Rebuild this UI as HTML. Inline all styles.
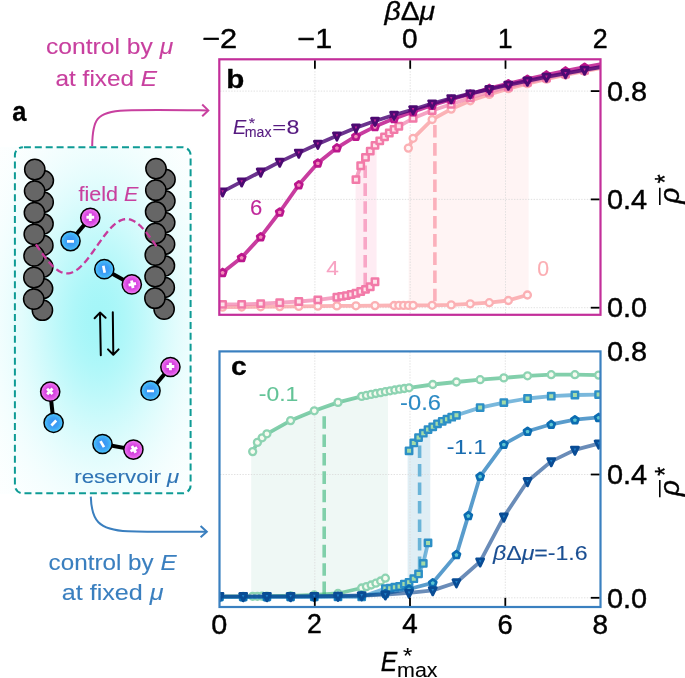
<!DOCTYPE html>
<html><head><meta charset="utf-8"><style>html,body{margin:0;padding:0;background:#fff;overflow:hidden;}svg{display:block;}</style></head>
<body><svg width="685" height="678" viewBox="0 0 685 678" font-family='"Liberation Sans", sans-serif'>
<defs>
<radialGradient id="glow" cx="0.5" cy="0.5" r="0.5"><stop offset="0.000" stop-color="#a4f6f8" stop-opacity="1.0000"/><stop offset="0.042" stop-color="#a4f6f8" stop-opacity="0.9922"/><stop offset="0.083" stop-color="#a4f6f8" stop-opacity="0.9692"/><stop offset="0.125" stop-color="#a4f6f8" stop-opacity="0.9321"/><stop offset="0.167" stop-color="#a4f6f8" stop-opacity="0.8825"/><stop offset="0.208" stop-color="#a4f6f8" stop-opacity="0.8226"/><stop offset="0.250" stop-color="#a4f6f8" stop-opacity="0.7548"/><stop offset="0.292" stop-color="#a4f6f8" stop-opacity="0.6819"/><stop offset="0.333" stop-color="#a4f6f8" stop-opacity="0.6065"/><stop offset="0.375" stop-color="#a4f6f8" stop-opacity="0.5311"/><stop offset="0.417" stop-color="#a4f6f8" stop-opacity="0.4578"/><stop offset="0.458" stop-color="#a4f6f8" stop-opacity="0.3886"/><stop offset="0.500" stop-color="#a4f6f8" stop-opacity="0.3247"/><stop offset="0.542" stop-color="#a4f6f8" stop-opacity="0.2671"/><stop offset="0.583" stop-color="#a4f6f8" stop-opacity="0.2163"/><stop offset="0.625" stop-color="#a4f6f8" stop-opacity="0.1724"/><stop offset="0.667" stop-color="#a4f6f8" stop-opacity="0.1353"/><stop offset="0.708" stop-color="#a4f6f8" stop-opacity="0.1046"/><stop offset="0.750" stop-color="#a4f6f8" stop-opacity="0.0796"/><stop offset="0.792" stop-color="#a4f6f8" stop-opacity="0.0596"/><stop offset="0.833" stop-color="#a4f6f8" stop-opacity="0.0439"/><stop offset="0.875" stop-color="#a4f6f8" stop-opacity="0.0319"/><stop offset="0.917" stop-color="#a4f6f8" stop-opacity="0.0228"/><stop offset="0.958" stop-color="#a4f6f8" stop-opacity="0.0160"/><stop offset="1.000" stop-color="#a4f6f8" stop-opacity="0.0111"/></radialGradient>
<radialGradient id="gp" cx="0.5" cy="0.5" r="0.5"><stop offset="0" stop-color="#c62ed2"/><stop offset="0.55" stop-color="#d94ae2"/><stop offset="1" stop-color="#f27af4"/></radialGradient>
<radialGradient id="gm" cx="0.5" cy="0.5" r="0.5"><stop offset="0" stop-color="#388ef3"/><stop offset="0.55" stop-color="#3da2f5"/><stop offset="1" stop-color="#4ac8fa"/></radialGradient>
</defs>
<clipPath id="glowclip"><rect x="0" y="147" width="191" height="347"/></clipPath><ellipse cx="99" cy="320.5" rx="154.2" ry="273.6" fill="url(#glow)" clip-path="url(#glowclip)"/>
<rect x="14.9" y="147.2" width="175.7" height="346.1" rx="8" ry="8" fill="none" stroke="#0e9b95" stroke-width="2" stroke-dasharray="7 3.9" stroke-dashoffset="-1"/>
<circle cx="43.30" cy="180.60" r="10.15" fill="#666666" stroke="#000" stroke-width="1.5"/>
<circle cx="43.15" cy="202.20" r="10.15" fill="#666666" stroke="#000" stroke-width="1.5"/>
<circle cx="43.00" cy="223.80" r="10.15" fill="#666666" stroke="#000" stroke-width="1.5"/>
<circle cx="42.85" cy="245.40" r="10.15" fill="#666666" stroke="#000" stroke-width="1.5"/>
<circle cx="42.70" cy="267.00" r="10.15" fill="#666666" stroke="#000" stroke-width="1.5"/>
<circle cx="42.55" cy="288.60" r="10.15" fill="#666666" stroke="#000" stroke-width="1.5"/>
<circle cx="42.40" cy="310.20" r="10.15" fill="#666666" stroke="#000" stroke-width="1.5"/>
<circle cx="34.80" cy="169.50" r="10.15" fill="#666666" stroke="#000" stroke-width="1.5"/>
<circle cx="34.62" cy="191.10" r="10.15" fill="#666666" stroke="#000" stroke-width="1.5"/>
<circle cx="34.44" cy="212.70" r="10.15" fill="#666666" stroke="#000" stroke-width="1.5"/>
<circle cx="34.26" cy="234.30" r="10.15" fill="#666666" stroke="#000" stroke-width="1.5"/>
<circle cx="34.08" cy="255.90" r="10.15" fill="#666666" stroke="#000" stroke-width="1.5"/>
<circle cx="33.90" cy="277.50" r="10.15" fill="#666666" stroke="#000" stroke-width="1.5"/>
<circle cx="33.72" cy="299.10" r="10.15" fill="#666666" stroke="#000" stroke-width="1.5"/>
<circle cx="165.00" cy="179.40" r="10.15" fill="#666666" stroke="#000" stroke-width="1.5"/>
<circle cx="164.85" cy="201.00" r="10.15" fill="#666666" stroke="#000" stroke-width="1.5"/>
<circle cx="164.70" cy="222.60" r="10.15" fill="#666666" stroke="#000" stroke-width="1.5"/>
<circle cx="164.55" cy="244.20" r="10.15" fill="#666666" stroke="#000" stroke-width="1.5"/>
<circle cx="164.40" cy="265.80" r="10.15" fill="#666666" stroke="#000" stroke-width="1.5"/>
<circle cx="164.25" cy="287.40" r="10.15" fill="#666666" stroke="#000" stroke-width="1.5"/>
<circle cx="164.10" cy="309.00" r="10.15" fill="#666666" stroke="#000" stroke-width="1.5"/>
<circle cx="156.00" cy="168.60" r="10.15" fill="#666666" stroke="#000" stroke-width="1.5"/>
<circle cx="155.82" cy="190.20" r="10.15" fill="#666666" stroke="#000" stroke-width="1.5"/>
<circle cx="155.64" cy="211.80" r="10.15" fill="#666666" stroke="#000" stroke-width="1.5"/>
<circle cx="155.46" cy="233.40" r="10.15" fill="#666666" stroke="#000" stroke-width="1.5"/>
<circle cx="155.28" cy="255.00" r="10.15" fill="#666666" stroke="#000" stroke-width="1.5"/>
<circle cx="155.10" cy="276.60" r="10.15" fill="#666666" stroke="#000" stroke-width="1.5"/>
<circle cx="154.92" cy="298.20" r="10.15" fill="#666666" stroke="#000" stroke-width="1.5"/>
<polyline points="35.90,244.39 36.90,245.82 37.90,247.24 38.89,248.67 39.89,250.09 40.89,251.49 41.89,252.89 42.88,254.26 43.88,255.61 44.88,256.94 45.88,258.24 46.87,259.50 47.87,260.73 48.87,261.91 49.87,263.06 50.86,264.16 51.86,265.20 52.86,266.20 53.86,267.14 54.85,268.02 55.85,268.84 56.85,269.60 57.85,270.30 58.84,270.93 59.84,271.49 60.84,271.98 61.84,272.40 62.83,272.75 63.83,273.02 64.83,273.22 65.83,273.35 66.82,273.40 67.82,273.37 68.82,273.28 69.82,273.10 70.81,272.85 71.81,272.53 72.81,272.14 73.81,271.67 74.80,271.14 75.80,270.53 76.80,269.86 77.80,269.12 78.79,268.32 79.79,267.46 80.79,266.54 81.79,265.56 82.78,264.53 83.78,263.45 84.78,262.33 85.78,261.15 86.77,259.94 87.77,258.69 88.77,257.40 89.77,256.09 90.76,254.74 91.76,253.38 92.76,251.99 93.76,250.59 94.75,249.17 95.75,247.75 96.75,246.32 97.75,244.90 98.74,243.47 99.74,242.06 100.74,240.65 101.74,239.26 102.73,237.90 103.73,236.55 104.73,235.23 105.73,233.94 106.72,232.69 107.72,231.47 108.72,230.29 109.72,229.16 110.71,228.08 111.71,227.04 112.71,226.06 113.71,225.13 114.70,224.26 115.70,223.46 116.70,222.71 117.70,222.04 118.69,221.42 119.69,220.88 120.69,220.41 121.69,220.01 122.68,219.68 123.68,219.42 124.68,219.24 125.68,219.13 126.67,219.10 127.67,219.14 128.67,219.26 129.67,219.45 130.66,219.72 131.66,220.06 132.66,220.47 133.66,220.96 134.65,221.51 135.65,222.13 136.65,222.82 137.65,223.57 138.64,224.39 139.64,225.27 140.64,226.20 141.64,227.19 142.63,228.23 143.63,229.33 144.63,230.47 145.63,231.65 146.62,232.87 147.62,234.13 148.62,235.43 149.62,236.75 150.61,238.10 151.61,239.47 152.61,240.86 153.61,242.27 154.60,243.68 155.60,245.11 156.60,246.54" fill="none" stroke="#c63a9c" stroke-width="2.3" stroke-dasharray="7 3.8"/>
<line x1="70.5" y1="241.1" x2="90.3" y2="217.8" stroke="#000" stroke-width="4"/><circle cx="70.5" cy="241.1" r="9.6" fill="url(#gm)" stroke="#000" stroke-width="1.5"/><circle cx="90.3" cy="217.8" r="9.6" fill="url(#gp)" stroke="#000" stroke-width="1.5"/><g transform="translate(70.5 241.1) rotate(-0.0)"><path d="M-3.5,0.3H3.5" stroke="#fff" stroke-width="2.7"/></g><g transform="translate(90.3 217.8) rotate(-0.0)"><path d="M-3.9,-0.5H3.9M0,-4.3V3.3" stroke="#fff" stroke-width="2.9"/></g>
<line x1="104.3" y1="269.2" x2="131.8" y2="284.4" stroke="#000" stroke-width="4"/><circle cx="104.3" cy="269.2" r="9.6" fill="url(#gm)" stroke="#000" stroke-width="1.5"/><circle cx="131.8" cy="284.4" r="9.6" fill="url(#gp)" stroke="#000" stroke-width="1.5"/><g transform="translate(104.3 269.2) rotate(78.5)"><path d="M-3.5,0.3H3.5" stroke="#fff" stroke-width="2.7"/></g><g transform="translate(131.8 284.4) rotate(78.5)"><path d="M-3.9,-0.5H3.9M0,-4.3V3.3" stroke="#fff" stroke-width="2.9"/></g>
<line x1="53.6" y1="422.8" x2="50.2" y2="391.7" stroke="#000" stroke-width="4"/><circle cx="53.6" cy="422.8" r="9.6" fill="url(#gm)" stroke="#000" stroke-width="1.5"/><circle cx="50.2" cy="391.7" r="9.6" fill="url(#gp)" stroke="#000" stroke-width="1.5"/><g transform="translate(53.6 422.8) rotate(-46.6)"><path d="M-3.5,0.3H3.5" stroke="#fff" stroke-width="2.7"/></g><g transform="translate(50.2 391.7) rotate(-46.6)"><path d="M-3.9,-0.5H3.9M0,-4.3V3.3" stroke="#fff" stroke-width="2.9"/></g>
<line x1="150.5" y1="390.7" x2="170.4" y2="367.0" stroke="#000" stroke-width="4"/><circle cx="150.5" cy="390.7" r="9.6" fill="url(#gm)" stroke="#000" stroke-width="1.5"/><circle cx="170.4" cy="367.0" r="9.6" fill="url(#gp)" stroke="#000" stroke-width="1.5"/><g transform="translate(150.5 390.7) rotate(-0.4)"><path d="M-3.5,0.3H3.5" stroke="#fff" stroke-width="2.7"/></g><g transform="translate(170.4 367.0) rotate(-0.4)"><path d="M-3.9,-0.5H3.9M0,-4.3V3.3" stroke="#fff" stroke-width="2.9"/></g>
<line x1="102.5" y1="444.0" x2="133.4" y2="449.6" stroke="#000" stroke-width="4"/><circle cx="102.5" cy="444.0" r="9.6" fill="url(#gm)" stroke="#000" stroke-width="1.5"/><circle cx="133.4" cy="449.6" r="9.6" fill="url(#gp)" stroke="#000" stroke-width="1.5"/><g transform="translate(102.5 444.0) rotate(59.9)"><path d="M-3.5,0.3H3.5" stroke="#fff" stroke-width="2.7"/></g><g transform="translate(133.4 449.6) rotate(59.9)"><path d="M-3.9,-0.5H3.9M0,-4.3V3.3" stroke="#fff" stroke-width="2.9"/></g>
<path d="M100.8,355.2 L100.0,312.8 M94.6,318.2 L100.0,312.6 L105.6,317.8" fill="none" stroke="#000" stroke-width="2" stroke-linecap="round" stroke-linejoin="round"/>
<path d="M112.8,312.2 L113.3,354.5 M108.0,349.4 L113.3,354.7 L118.6,349.4" fill="none" stroke="#000" stroke-width="2" stroke-linecap="round" stroke-linejoin="round"/>
<path d="M92.2,146 C92.4,120 96,111.5 125,110.4 C150,109.4 180,110 207.8,110.4" fill="none" stroke="#c8409f" stroke-width="2"/>
<path d="M202.2,104.5 L208.3,110.4 L202.2,116.3" fill="none" stroke="#c8409f" stroke-width="2" stroke-linejoin="miter"/>
<path d="M90.8,496.6 C91.5,520 98,530 128,531.3 C155,532.2 180,531.8 206.5,531.7" fill="none" stroke="#3a7fbf" stroke-width="2"/>
<path d="M200.6,526 L206.8,531.7 L200.6,537.2" fill="none" stroke="#3a7fbf" stroke-width="2" stroke-linejoin="miter"/>
<clipPath id="cb"><rect x="219.3" y="59.3" width="381.2" height="255.5"/></clipPath>
<g clip-path="url(#cb)">
<polygon points="355.60,179.60 360.71,165.70 365.48,157.40 370.24,151.10 375.00,145.40 376.60,143.60 376.60,281.00 375.00,281.80 370.24,286.80 365.48,289.40 360.71,291.50 355.60,293.30" fill="#feecf3" stroke="none"/>
<polygon points="408.60,148.10 413.10,138.30 432.15,119.50 451.20,109.10 470.25,100.80 489.30,94.40 508.35,88.70 527.40,83.70 528.60,83.40 528.60,294.50 527.40,295.00 508.35,300.50 489.30,302.70 470.25,303.80 451.20,304.90 432.15,305.30 408.60,305.40" fill="#fff4f4" stroke="none"/>
<line x1="314.9" y1="60" x2="314.9" y2="314" stroke="#d9d9d9" stroke-width="0.8" stroke-dasharray="1.4 1.4"/>
<line x1="410.2" y1="60" x2="410.2" y2="314" stroke="#d9d9d9" stroke-width="0.8" stroke-dasharray="1.4 1.4"/>
<line x1="505.5" y1="60" x2="505.5" y2="314" stroke="#d9d9d9" stroke-width="0.8" stroke-dasharray="1.4 1.4"/>
<line x1="220" y1="91.1" x2="600" y2="91.1" stroke="#d9d9d9" stroke-width="0.8" stroke-dasharray="1.4 1.4"/>
<line x1="220" y1="199.4" x2="600" y2="199.4" stroke="#d9d9d9" stroke-width="0.8" stroke-dasharray="1.4 1.4"/>
<line x1="220" y1="307.7" x2="600" y2="307.7" stroke="#d9d9d9" stroke-width="0.8" stroke-dasharray="1.4 1.4"/>
<line x1="365.2" y1="157.8" x2="365.2" y2="289.0" stroke="#f8a6c6" stroke-width="3.6" stroke-dasharray="12.6 5.30" stroke-dashoffset="10.30"/>
<line x1="434.9" y1="118.0" x2="434.9" y2="305.0" stroke="#fbb0bb" stroke-width="3.6" stroke-dasharray="12.6 5.60" stroke-dashoffset="11.30"/>
<polyline points="203.50,307.40 222.60,307.20 241.65,307.00 260.70,306.80 279.75,306.60 298.80,306.40 317.85,306.20 336.90,305.90 355.95,305.80 375.00,305.60 394.05,305.50 398.81,305.40 403.57,305.40 408.34,305.40 413.10,305.40 432.15,305.30 451.20,304.90 470.25,303.80 489.30,302.70 508.35,300.50 527.40,295.00" fill="none" stroke="#fa9b9f" stroke-opacity="0.75" stroke-width="3.8" stroke-linejoin="round" stroke-linecap="butt" />
<polyline points="408.34,148.10 413.10,138.30 432.15,119.50 451.20,109.10 470.25,100.80 489.30,94.40 508.35,88.70 527.40,83.70 546.45,79.10 565.50,75.00 584.55,71.20 603.60,67.60" fill="none" stroke="#fa9b9f" stroke-opacity="0.75" stroke-width="3.8" stroke-linejoin="round" stroke-linecap="butt" />
<g fill="#fff6f6" stroke="#fbb0b4" stroke-width="2.3" stroke-linejoin="round"><path d="M219.10,307.20a3.5,3.5 0 1,0 7.00,0a3.5,3.5 0 1,0 -7.00,0Z"/><path d="M238.15,307.00a3.5,3.5 0 1,0 7.00,0a3.5,3.5 0 1,0 -7.00,0Z"/><path d="M257.20,306.80a3.5,3.5 0 1,0 7.00,0a3.5,3.5 0 1,0 -7.00,0Z"/><path d="M276.25,306.60a3.5,3.5 0 1,0 7.00,0a3.5,3.5 0 1,0 -7.00,0Z"/><path d="M295.30,306.40a3.5,3.5 0 1,0 7.00,0a3.5,3.5 0 1,0 -7.00,0Z"/><path d="M314.35,306.20a3.5,3.5 0 1,0 7.00,0a3.5,3.5 0 1,0 -7.00,0Z"/><path d="M333.40,305.90a3.5,3.5 0 1,0 7.00,0a3.5,3.5 0 1,0 -7.00,0Z"/><path d="M352.45,305.80a3.5,3.5 0 1,0 7.00,0a3.5,3.5 0 1,0 -7.00,0Z"/><path d="M371.50,305.60a3.5,3.5 0 1,0 7.00,0a3.5,3.5 0 1,0 -7.00,0Z"/><path d="M390.55,305.50a3.5,3.5 0 1,0 7.00,0a3.5,3.5 0 1,0 -7.00,0Z"/><path d="M395.31,305.40a3.5,3.5 0 1,0 7.00,0a3.5,3.5 0 1,0 -7.00,0Z"/><path d="M400.07,305.40a3.5,3.5 0 1,0 7.00,0a3.5,3.5 0 1,0 -7.00,0Z"/><path d="M404.84,305.40a3.5,3.5 0 1,0 7.00,0a3.5,3.5 0 1,0 -7.00,0Z"/><path d="M409.60,305.40a3.5,3.5 0 1,0 7.00,0a3.5,3.5 0 1,0 -7.00,0Z"/><path d="M428.65,305.30a3.5,3.5 0 1,0 7.00,0a3.5,3.5 0 1,0 -7.00,0Z"/><path d="M447.70,304.90a3.5,3.5 0 1,0 7.00,0a3.5,3.5 0 1,0 -7.00,0Z"/><path d="M466.75,303.80a3.5,3.5 0 1,0 7.00,0a3.5,3.5 0 1,0 -7.00,0Z"/><path d="M485.80,302.70a3.5,3.5 0 1,0 7.00,0a3.5,3.5 0 1,0 -7.00,0Z"/><path d="M504.85,300.50a3.5,3.5 0 1,0 7.00,0a3.5,3.5 0 1,0 -7.00,0Z"/><path d="M523.90,295.00a3.5,3.5 0 1,0 7.00,0a3.5,3.5 0 1,0 -7.00,0Z"/><path d="M404.84,148.10a3.5,3.5 0 1,0 7.00,0a3.5,3.5 0 1,0 -7.00,0Z"/><path d="M409.60,138.30a3.5,3.5 0 1,0 7.00,0a3.5,3.5 0 1,0 -7.00,0Z"/><path d="M428.65,119.50a3.5,3.5 0 1,0 7.00,0a3.5,3.5 0 1,0 -7.00,0Z"/><path d="M447.70,109.10a3.5,3.5 0 1,0 7.00,0a3.5,3.5 0 1,0 -7.00,0Z"/><path d="M466.75,100.80a3.5,3.5 0 1,0 7.00,0a3.5,3.5 0 1,0 -7.00,0Z"/><path d="M485.80,94.40a3.5,3.5 0 1,0 7.00,0a3.5,3.5 0 1,0 -7.00,0Z"/><path d="M504.85,88.70a3.5,3.5 0 1,0 7.00,0a3.5,3.5 0 1,0 -7.00,0Z"/><path d="M523.90,83.70a3.5,3.5 0 1,0 7.00,0a3.5,3.5 0 1,0 -7.00,0Z"/><path d="M542.95,79.10a3.5,3.5 0 1,0 7.00,0a3.5,3.5 0 1,0 -7.00,0Z"/><path d="M562.00,75.00a3.5,3.5 0 1,0 7.00,0a3.5,3.5 0 1,0 -7.00,0Z"/><path d="M581.05,71.20a3.5,3.5 0 1,0 7.00,0a3.5,3.5 0 1,0 -7.00,0Z"/></g>
<polyline points="203.50,304.50 222.60,304.40 241.65,304.40 260.70,303.60 279.75,302.70 298.80,301.50 317.85,299.90 336.90,297.30 341.66,296.40 346.43,295.60 351.19,294.50 355.95,293.20 360.71,291.50 365.48,289.40 370.24,286.80 375.00,281.80" fill="none" stroke="#f284af" stroke-opacity="0.75" stroke-width="3.8" stroke-linejoin="round" stroke-linecap="butt" />
<polyline points="355.95,179.60 360.71,165.70 365.48,157.40 370.24,151.10 375.00,145.40 379.76,140.90 384.52,136.90 389.29,133.00 394.05,129.50 398.81,126.30 413.10,118.30 432.15,110.50 451.20,104.30 470.25,97.80 489.30,92.20 508.35,87.00 527.40,82.30 546.45,78.00 565.50,74.00 584.55,70.30 603.60,66.60" fill="none" stroke="#f284af" stroke-opacity="0.75" stroke-width="3.8" stroke-linejoin="round" stroke-linecap="butt" />
<g fill="#fde3ea" stroke="#f27aa8" stroke-width="2.5" stroke-linejoin="round"><path d="M219.40,301.20h6.40v6.40h-6.40Z"/><path d="M238.45,301.20h6.40v6.40h-6.40Z"/><path d="M257.50,300.40h6.40v6.40h-6.40Z"/><path d="M276.55,299.50h6.40v6.40h-6.40Z"/><path d="M295.60,298.30h6.40v6.40h-6.40Z"/><path d="M314.65,296.70h6.40v6.40h-6.40Z"/><path d="M333.70,294.10h6.40v6.40h-6.40Z"/><path d="M338.46,293.20h6.40v6.40h-6.40Z"/><path d="M343.23,292.40h6.40v6.40h-6.40Z"/><path d="M347.99,291.30h6.40v6.40h-6.40Z"/><path d="M352.75,290.00h6.40v6.40h-6.40Z"/><path d="M357.51,288.30h6.40v6.40h-6.40Z"/><path d="M362.28,286.20h6.40v6.40h-6.40Z"/><path d="M367.04,283.60h6.40v6.40h-6.40Z"/><path d="M371.80,278.60h6.40v6.40h-6.40Z"/><path d="M352.75,176.40h6.40v6.40h-6.40Z"/><path d="M357.51,162.50h6.40v6.40h-6.40Z"/><path d="M362.28,154.20h6.40v6.40h-6.40Z"/><path d="M367.04,147.90h6.40v6.40h-6.40Z"/><path d="M371.80,142.20h6.40v6.40h-6.40Z"/><path d="M376.56,137.70h6.40v6.40h-6.40Z"/><path d="M381.32,133.70h6.40v6.40h-6.40Z"/><path d="M386.09,129.80h6.40v6.40h-6.40Z"/><path d="M390.85,126.30h6.40v6.40h-6.40Z"/><path d="M395.61,123.10h6.40v6.40h-6.40Z"/><path d="M409.90,115.10h6.40v6.40h-6.40Z"/><path d="M428.95,107.30h6.40v6.40h-6.40Z"/><path d="M448.00,101.10h6.40v6.40h-6.40Z"/><path d="M467.05,94.60h6.40v6.40h-6.40Z"/><path d="M486.10,89.00h6.40v6.40h-6.40Z"/><path d="M505.15,83.80h6.40v6.40h-6.40Z"/><path d="M524.20,79.10h6.40v6.40h-6.40Z"/><path d="M543.25,74.80h6.40v6.40h-6.40Z"/><path d="M562.30,70.80h6.40v6.40h-6.40Z"/><path d="M581.35,67.10h6.40v6.40h-6.40Z"/></g>
<polyline points="203.50,285.00 222.60,272.40 241.65,257.50 260.70,236.80 279.75,212.00 298.80,184.80 317.85,163.00 336.90,147.80 355.95,136.20 375.00,126.60 394.05,118.60 413.10,111.70 432.15,105.20 451.20,99.40 470.25,94.00 489.30,88.40 508.35,83.70 527.40,79.20 546.45,74.90 565.50,70.90 584.55,67.20 603.60,63.70" fill="none" stroke="#ba0b87" stroke-opacity="0.8" stroke-width="3.8" stroke-linejoin="round" stroke-linecap="butt" />
<g fill="#f48cba" stroke="#bb168c" stroke-width="2.7" stroke-linejoin="round"><path d="M222.60,269.00L226.17,271.59L224.80,275.78L220.40,275.78L219.03,271.59Z"/><path d="M241.65,254.10L245.22,256.69L243.85,260.88L239.45,260.88L238.08,256.69Z"/><path d="M260.70,233.40L264.27,235.99L262.90,240.18L258.50,240.18L257.13,235.99Z"/><path d="M279.75,208.60L283.32,211.19L281.95,215.38L277.55,215.38L276.18,211.19Z"/><path d="M298.80,181.40L302.37,183.99L301.00,188.18L296.60,188.18L295.23,183.99Z"/><path d="M317.85,159.60L321.42,162.19L320.05,166.38L315.65,166.38L314.28,162.19Z"/><path d="M336.90,144.40L340.47,146.99L339.10,151.18L334.70,151.18L333.33,146.99Z"/><path d="M355.95,132.80L359.52,135.39L358.15,139.58L353.75,139.58L352.38,135.39Z"/><path d="M375.00,123.20L378.57,125.79L377.20,129.98L372.80,129.98L371.43,125.79Z"/><path d="M394.05,115.20L397.62,117.79L396.25,121.98L391.85,121.98L390.48,117.79Z"/><path d="M413.10,108.30L416.67,110.89L415.30,115.08L410.90,115.08L409.53,110.89Z"/><path d="M432.15,101.80L435.72,104.39L434.35,108.58L429.95,108.58L428.58,104.39Z"/><path d="M451.20,96.00L454.77,98.59L453.40,102.78L449.00,102.78L447.63,98.59Z"/><path d="M470.25,90.60L473.82,93.19L472.45,97.38L468.05,97.38L466.68,93.19Z"/><path d="M489.30,85.00L492.87,87.59L491.50,91.78L487.10,91.78L485.73,87.59Z"/><path d="M508.35,80.30L511.92,82.89L510.55,87.08L506.15,87.08L504.78,82.89Z"/><path d="M527.40,75.80L530.97,78.39L529.60,82.58L525.20,82.58L523.83,78.39Z"/><path d="M546.45,71.50L550.02,74.09L548.65,78.28L544.25,78.28L542.88,74.09Z"/><path d="M565.50,67.50L569.07,70.09L567.70,74.28L563.30,74.28L561.93,70.09Z"/><path d="M584.55,63.80L588.12,66.39L586.75,70.58L582.35,70.58L580.98,66.39Z"/></g>
<polyline points="203.50,201.50 222.60,191.60 241.65,181.60 260.70,171.80 279.75,161.90 298.80,152.90 317.85,144.00 336.90,135.70 355.95,127.80 375.00,121.00 394.05,115.00 413.10,109.50 432.15,103.60 451.20,98.40 470.25,93.60 489.30,89.20 508.35,84.90 527.40,80.80 546.45,76.90 565.50,73.30 584.55,69.90 603.60,66.60" fill="none" stroke="#460072" stroke-opacity="0.8" stroke-width="3.8" stroke-linejoin="round" stroke-linecap="butt" />
<g fill="#c2209a" stroke="#4c0a72" stroke-width="2.8" stroke-linejoin="round"><path d="M219.10,188.80L226.10,188.80L222.60,196.10Z"/><path d="M238.15,178.80L245.15,178.80L241.65,186.10Z"/><path d="M257.20,169.00L264.20,169.00L260.70,176.30Z"/><path d="M276.25,159.10L283.25,159.10L279.75,166.40Z"/><path d="M295.30,150.10L302.30,150.10L298.80,157.40Z"/><path d="M314.35,141.20L321.35,141.20L317.85,148.50Z"/><path d="M333.40,132.90L340.40,132.90L336.90,140.20Z"/><path d="M352.45,125.00L359.45,125.00L355.95,132.30Z"/><path d="M371.50,118.20L378.50,118.20L375.00,125.50Z"/><path d="M390.55,112.20L397.55,112.20L394.05,119.50Z"/><path d="M409.60,106.70L416.60,106.70L413.10,114.00Z"/><path d="M428.65,100.80L435.65,100.80L432.15,108.10Z"/><path d="M447.70,95.60L454.70,95.60L451.20,102.90Z"/><path d="M466.75,90.80L473.75,90.80L470.25,98.10Z"/><path d="M485.80,86.40L492.80,86.40L489.30,93.70Z"/><path d="M504.85,82.10L511.85,82.10L508.35,89.40Z"/><path d="M523.90,78.00L530.90,78.00L527.40,85.30Z"/><path d="M542.95,74.10L549.95,74.10L546.45,81.40Z"/><path d="M562.00,70.50L569.00,70.50L565.50,77.80Z"/><path d="M581.05,67.10L588.05,67.10L584.55,74.40Z"/></g>
</g>
<clipPath id="cc"><rect x="219.5" y="351.4" width="381.0" height="255.6"/></clipPath>
<g clip-path="url(#cc)">
<polygon points="251.20,453.50 252.67,451.60 257.41,442.40 262.15,437.80 266.89,433.80 290.59,420.60 314.28,410.80 337.98,402.40 361.67,396.40 366.41,395.40 371.15,394.40 375.89,393.50 380.63,392.60 385.37,391.70 388.00,391.50 388.00,577.80 385.37,578.20 380.63,581.00 375.89,583.20 371.15,585.00 366.41,586.60 361.67,588.00 337.98,593.50 314.28,595.00 290.59,595.80 266.89,596.20 262.15,596.20 257.41,596.30 252.67,596.30 251.20,596.30" fill="#eff8f5" stroke="none"/>
<polygon points="407.60,451.50 409.06,450.80 413.80,442.90 418.54,437.60 423.28,433.20 428.02,429.60 430.30,429.20 430.30,538.00 428.02,542.90 423.28,563.40 418.54,573.90 413.80,578.70 409.06,582.30 407.60,582.60" fill="#dfeef5" stroke="none"/>
<line x1="314.8" y1="352" x2="314.8" y2="606" stroke="#d9d9d9" stroke-width="0.8" stroke-dasharray="1.4 1.4"/>
<line x1="410.0" y1="352" x2="410.0" y2="606" stroke="#d9d9d9" stroke-width="0.8" stroke-dasharray="1.4 1.4"/>
<line x1="505.3" y1="352" x2="505.3" y2="606" stroke="#d9d9d9" stroke-width="0.8" stroke-dasharray="1.4 1.4"/>
<line x1="220" y1="474.5" x2="600" y2="474.5" stroke="#d9d9d9" stroke-width="0.8" stroke-dasharray="1.4 1.4"/>
<line x1="220" y1="597.8" x2="600" y2="597.8" stroke="#d9d9d9" stroke-width="0.8" stroke-dasharray="1.4 1.4"/>
<line x1="324.2" y1="411.0" x2="324.2" y2="595.0" stroke="#80d0aa" stroke-width="3.6" stroke-dasharray="12.6 5.78" stroke-dashoffset="13.24"/>
<line x1="419.6" y1="437.6" x2="419.6" y2="574.0" stroke="#6ab4d8" stroke-width="3.6" stroke-dasharray="12.6 5.90" stroke-dashoffset="10.70"/>
<polyline points="219.50,596.50 243.19,596.40 252.67,596.30 257.41,596.30 262.15,596.20 266.89,596.20 290.59,595.80 314.28,595.00 337.98,593.50 361.67,588.00 366.41,586.60 371.15,585.00 375.89,583.20 380.63,581.00 385.37,578.20" fill="none" stroke="#2faf73" stroke-opacity="0.6" stroke-width="3.8" stroke-linejoin="round" stroke-linecap="butt" />
<polyline points="252.67,451.60 257.41,442.40 262.15,437.80 266.89,433.80 290.59,420.60 314.28,410.80 337.98,402.40 361.67,396.40 366.41,395.40 371.15,394.40 375.89,393.50 380.63,392.60 385.37,391.70 390.10,390.80 394.84,390.00 399.58,389.20 404.32,388.50 409.06,387.80 432.75,384.50 456.45,382.00 480.14,379.70 503.84,377.90 527.54,375.80 551.23,374.70 574.92,374.70 598.62,375.10" fill="none" stroke="#2faf73" stroke-opacity="0.6" stroke-width="3.8" stroke-linejoin="round" stroke-linecap="butt" />
<g fill="#f6fbf0" stroke="#8dd3b2" stroke-width="2.3" stroke-linejoin="round"><path d="M216.00,596.50a3.5,3.5 0 1,0 7.00,0a3.5,3.5 0 1,0 -7.00,0Z"/><path d="M239.69,596.40a3.5,3.5 0 1,0 7.00,0a3.5,3.5 0 1,0 -7.00,0Z"/><path d="M249.17,596.30a3.5,3.5 0 1,0 7.00,0a3.5,3.5 0 1,0 -7.00,0Z"/><path d="M253.91,596.30a3.5,3.5 0 1,0 7.00,0a3.5,3.5 0 1,0 -7.00,0Z"/><path d="M258.65,596.20a3.5,3.5 0 1,0 7.00,0a3.5,3.5 0 1,0 -7.00,0Z"/><path d="M263.39,596.20a3.5,3.5 0 1,0 7.00,0a3.5,3.5 0 1,0 -7.00,0Z"/><path d="M287.09,595.80a3.5,3.5 0 1,0 7.00,0a3.5,3.5 0 1,0 -7.00,0Z"/><path d="M310.78,595.00a3.5,3.5 0 1,0 7.00,0a3.5,3.5 0 1,0 -7.00,0Z"/><path d="M334.48,593.50a3.5,3.5 0 1,0 7.00,0a3.5,3.5 0 1,0 -7.00,0Z"/><path d="M358.17,588.00a3.5,3.5 0 1,0 7.00,0a3.5,3.5 0 1,0 -7.00,0Z"/><path d="M362.91,586.60a3.5,3.5 0 1,0 7.00,0a3.5,3.5 0 1,0 -7.00,0Z"/><path d="M367.65,585.00a3.5,3.5 0 1,0 7.00,0a3.5,3.5 0 1,0 -7.00,0Z"/><path d="M372.39,583.20a3.5,3.5 0 1,0 7.00,0a3.5,3.5 0 1,0 -7.00,0Z"/><path d="M377.13,581.00a3.5,3.5 0 1,0 7.00,0a3.5,3.5 0 1,0 -7.00,0Z"/><path d="M381.87,578.20a3.5,3.5 0 1,0 7.00,0a3.5,3.5 0 1,0 -7.00,0Z"/><path d="M249.17,451.60a3.5,3.5 0 1,0 7.00,0a3.5,3.5 0 1,0 -7.00,0Z"/><path d="M253.91,442.40a3.5,3.5 0 1,0 7.00,0a3.5,3.5 0 1,0 -7.00,0Z"/><path d="M258.65,437.80a3.5,3.5 0 1,0 7.00,0a3.5,3.5 0 1,0 -7.00,0Z"/><path d="M263.39,433.80a3.5,3.5 0 1,0 7.00,0a3.5,3.5 0 1,0 -7.00,0Z"/><path d="M287.09,420.60a3.5,3.5 0 1,0 7.00,0a3.5,3.5 0 1,0 -7.00,0Z"/><path d="M310.78,410.80a3.5,3.5 0 1,0 7.00,0a3.5,3.5 0 1,0 -7.00,0Z"/><path d="M334.48,402.40a3.5,3.5 0 1,0 7.00,0a3.5,3.5 0 1,0 -7.00,0Z"/><path d="M358.17,396.40a3.5,3.5 0 1,0 7.00,0a3.5,3.5 0 1,0 -7.00,0Z"/><path d="M362.91,395.40a3.5,3.5 0 1,0 7.00,0a3.5,3.5 0 1,0 -7.00,0Z"/><path d="M367.65,394.40a3.5,3.5 0 1,0 7.00,0a3.5,3.5 0 1,0 -7.00,0Z"/><path d="M372.39,393.50a3.5,3.5 0 1,0 7.00,0a3.5,3.5 0 1,0 -7.00,0Z"/><path d="M377.13,392.60a3.5,3.5 0 1,0 7.00,0a3.5,3.5 0 1,0 -7.00,0Z"/><path d="M381.87,391.70a3.5,3.5 0 1,0 7.00,0a3.5,3.5 0 1,0 -7.00,0Z"/><path d="M386.60,390.80a3.5,3.5 0 1,0 7.00,0a3.5,3.5 0 1,0 -7.00,0Z"/><path d="M391.34,390.00a3.5,3.5 0 1,0 7.00,0a3.5,3.5 0 1,0 -7.00,0Z"/><path d="M396.08,389.20a3.5,3.5 0 1,0 7.00,0a3.5,3.5 0 1,0 -7.00,0Z"/><path d="M400.82,388.50a3.5,3.5 0 1,0 7.00,0a3.5,3.5 0 1,0 -7.00,0Z"/><path d="M405.56,387.80a3.5,3.5 0 1,0 7.00,0a3.5,3.5 0 1,0 -7.00,0Z"/><path d="M429.25,384.50a3.5,3.5 0 1,0 7.00,0a3.5,3.5 0 1,0 -7.00,0Z"/><path d="M452.95,382.00a3.5,3.5 0 1,0 7.00,0a3.5,3.5 0 1,0 -7.00,0Z"/><path d="M476.64,379.70a3.5,3.5 0 1,0 7.00,0a3.5,3.5 0 1,0 -7.00,0Z"/><path d="M500.34,377.90a3.5,3.5 0 1,0 7.00,0a3.5,3.5 0 1,0 -7.00,0Z"/><path d="M524.04,375.80a3.5,3.5 0 1,0 7.00,0a3.5,3.5 0 1,0 -7.00,0Z"/><path d="M547.73,374.70a3.5,3.5 0 1,0 7.00,0a3.5,3.5 0 1,0 -7.00,0Z"/><path d="M571.42,374.70a3.5,3.5 0 1,0 7.00,0a3.5,3.5 0 1,0 -7.00,0Z"/><path d="M595.12,375.10a3.5,3.5 0 1,0 7.00,0a3.5,3.5 0 1,0 -7.00,0Z"/></g>
<polyline points="219.50,596.80 243.19,596.80 266.89,596.80 290.59,596.80 314.28,596.80 337.98,596.80 361.67,596.80 385.37,588.60 390.10,588.20 394.84,587.20 399.58,586.40 404.32,584.10 409.06,582.30 413.80,578.70 418.54,573.90 423.28,563.40 428.02,542.90" fill="none" stroke="#2189c5" stroke-opacity="0.6" stroke-width="3.8" stroke-linejoin="round" stroke-linecap="butt" />
<polyline points="409.06,450.80 413.80,442.90 418.54,437.60 423.28,433.20 428.02,429.60 432.75,426.80 437.49,423.80 442.23,421.30 446.97,419.20 451.71,417.20 456.45,415.30 480.14,407.60 503.84,402.60 527.54,398.50 551.23,396.20 574.92,395.00 598.62,394.60" fill="none" stroke="#2189c5" stroke-opacity="0.6" stroke-width="3.8" stroke-linejoin="round" stroke-linecap="butt" />
<g fill="#a3dba8" stroke="#2c8fc6" stroke-width="2.4" stroke-linejoin="round"><path d="M216.30,593.60h6.40v6.40h-6.40Z"/><path d="M240.00,593.60h6.40v6.40h-6.40Z"/><path d="M263.69,593.60h6.40v6.40h-6.40Z"/><path d="M287.39,593.60h6.40v6.40h-6.40Z"/><path d="M311.08,593.60h6.40v6.40h-6.40Z"/><path d="M334.78,593.60h6.40v6.40h-6.40Z"/><path d="M358.47,593.60h6.40v6.40h-6.40Z"/><path d="M382.17,585.40h6.40v6.40h-6.40Z"/><path d="M386.90,585.00h6.40v6.40h-6.40Z"/><path d="M391.64,584.00h6.40v6.40h-6.40Z"/><path d="M396.38,583.20h6.40v6.40h-6.40Z"/><path d="M401.12,580.90h6.40v6.40h-6.40Z"/><path d="M405.86,579.10h6.40v6.40h-6.40Z"/><path d="M410.60,575.50h6.40v6.40h-6.40Z"/><path d="M415.34,570.70h6.40v6.40h-6.40Z"/><path d="M420.08,560.20h6.40v6.40h-6.40Z"/><path d="M424.82,539.70h6.40v6.40h-6.40Z"/><path d="M405.86,447.60h6.40v6.40h-6.40Z"/><path d="M410.60,439.70h6.40v6.40h-6.40Z"/><path d="M415.34,434.40h6.40v6.40h-6.40Z"/><path d="M420.08,430.00h6.40v6.40h-6.40Z"/><path d="M424.82,426.40h6.40v6.40h-6.40Z"/><path d="M429.56,423.60h6.40v6.40h-6.40Z"/><path d="M434.29,420.60h6.40v6.40h-6.40Z"/><path d="M439.03,418.10h6.40v6.40h-6.40Z"/><path d="M443.77,416.00h6.40v6.40h-6.40Z"/><path d="M448.51,414.00h6.40v6.40h-6.40Z"/><path d="M453.25,412.10h6.40v6.40h-6.40Z"/><path d="M476.94,404.40h6.40v6.40h-6.40Z"/><path d="M500.64,399.40h6.40v6.40h-6.40Z"/><path d="M524.34,395.30h6.40v6.40h-6.40Z"/><path d="M548.03,393.00h6.40v6.40h-6.40Z"/><path d="M571.72,391.80h6.40v6.40h-6.40Z"/><path d="M595.42,391.40h6.40v6.40h-6.40Z"/></g>
<polyline points="219.50,596.80 243.19,596.80 266.89,596.70 290.59,596.60 314.28,596.50 337.98,596.20 361.67,595.60 385.37,593.50 409.06,589.00 432.75,582.80 456.45,554.60 468.30,515.60 480.14,476.30 503.84,444.20 527.54,431.20 551.23,424.30 574.92,419.70 598.62,417.40" fill="none" stroke="#1372b6" stroke-opacity="0.7" stroke-width="3.8" stroke-linejoin="round" stroke-linecap="butt" />
<g fill="#5ec6d2" stroke="#0b6cb1" stroke-width="2.7" stroke-linejoin="round"><path d="M219.50,593.40L223.07,595.99L221.70,600.18L217.30,600.18L215.93,595.99Z"/><path d="M243.19,593.40L246.76,595.99L245.40,600.18L240.99,600.18L239.63,595.99Z"/><path d="M266.89,593.30L270.46,595.89L269.09,600.08L264.69,600.08L263.32,595.89Z"/><path d="M290.59,593.20L294.15,595.79L292.79,599.98L288.38,599.98L287.02,595.79Z"/><path d="M314.28,593.10L317.85,595.69L316.48,599.88L312.08,599.88L310.71,595.69Z"/><path d="M337.98,592.80L341.54,595.39L340.18,599.58L335.77,599.58L334.41,595.39Z"/><path d="M361.67,592.20L365.24,594.79L363.87,598.98L359.47,598.98L358.10,594.79Z"/><path d="M385.37,590.10L388.93,592.69L387.57,596.88L383.16,596.88L381.80,592.69Z"/><path d="M409.06,585.60L412.63,588.19L411.26,592.38L406.86,592.38L405.49,588.19Z"/><path d="M432.75,579.40L436.32,581.99L434.96,586.18L430.55,586.18L429.19,581.99Z"/><path d="M456.45,551.20L460.02,553.79L458.65,557.98L454.25,557.98L452.88,553.79Z"/><path d="M468.30,512.20L471.86,514.79L470.50,518.98L466.09,518.98L464.73,514.79Z"/><path d="M480.14,472.90L483.71,475.49L482.35,479.68L477.94,479.68L476.58,475.49Z"/><path d="M503.84,440.80L507.41,443.39L506.04,447.58L501.64,447.58L500.27,443.39Z"/><path d="M527.54,427.80L531.10,430.39L529.74,434.58L525.33,434.58L523.97,430.39Z"/><path d="M551.23,420.90L554.80,423.49L553.43,427.68L549.03,427.68L547.66,423.49Z"/><path d="M574.92,416.30L578.49,418.89L577.13,423.08L572.72,423.08L571.36,418.89Z"/><path d="M598.62,414.00L602.19,416.59L600.82,420.78L596.42,420.78L595.05,416.59Z"/></g>
<polyline points="219.50,596.30 243.19,596.30 266.89,596.30 290.59,596.30 314.28,596.20 337.98,596.00 361.67,595.50 385.37,594.60 409.06,592.90 432.75,590.40 456.45,582.50 480.14,561.60 503.84,516.80 527.54,481.30 551.23,461.40 574.92,449.90 598.62,443.70" fill="none" stroke="#073f89" stroke-opacity="0.6" stroke-width="3.8" stroke-linejoin="round" stroke-linecap="butt" />
<g fill="#1f80c8" stroke="#094c95" stroke-width="2.8" stroke-linejoin="round"><path d="M216.00,593.50L223.00,593.50L219.50,600.80Z"/><path d="M239.69,593.50L246.69,593.50L243.19,600.80Z"/><path d="M263.39,593.50L270.39,593.50L266.89,600.80Z"/><path d="M287.09,593.50L294.09,593.50L290.59,600.80Z"/><path d="M310.78,593.40L317.78,593.40L314.28,600.70Z"/><path d="M334.48,593.20L341.48,593.20L337.98,600.50Z"/><path d="M358.17,592.70L365.17,592.70L361.67,600.00Z"/><path d="M381.87,591.80L388.87,591.80L385.37,599.10Z"/><path d="M405.56,590.10L412.56,590.10L409.06,597.40Z"/><path d="M429.25,587.60L436.25,587.60L432.75,594.90Z"/><path d="M452.95,579.70L459.95,579.70L456.45,587.00Z"/><path d="M476.64,558.80L483.64,558.80L480.14,566.10Z"/><path d="M500.34,514.00L507.34,514.00L503.84,521.30Z"/><path d="M524.04,478.50L531.04,478.50L527.54,485.80Z"/><path d="M547.73,458.60L554.73,458.60L551.23,465.90Z"/><path d="M571.42,447.10L578.42,447.10L574.92,454.40Z"/><path d="M595.12,440.90L602.12,440.90L598.62,448.20Z"/></g>
</g>
<rect x="219.3" y="59.3" width="381.2" height="255.5" fill="none" stroke="#c32e9a" stroke-width="2.2"/>
<rect x="219.5" y="351.4" width="381.0" height="255.6" fill="none" stroke="#3a80c0" stroke-width="2.2"/>
<line x1="314.9" y1="60.4" x2="314.9" y2="68.8" stroke="#000" stroke-width="1.8"/>
<line x1="410.2" y1="60.4" x2="410.2" y2="68.8" stroke="#000" stroke-width="1.8"/>
<line x1="505.5" y1="60.4" x2="505.5" y2="68.8" stroke="#000" stroke-width="1.8"/>
<line x1="590.8" y1="91.1" x2="599.4" y2="91.1" stroke="#000" stroke-width="1.8"/>
<line x1="590.8" y1="199.4" x2="599.4" y2="199.4" stroke="#000" stroke-width="1.8"/>
<line x1="590.8" y1="307.7" x2="599.4" y2="307.7" stroke="#000" stroke-width="1.8"/>
<line x1="314.8" y1="597.8" x2="314.8" y2="605.9" stroke="#000" stroke-width="1.8"/>
<line x1="410.0" y1="597.8" x2="410.0" y2="605.9" stroke="#000" stroke-width="1.8"/>
<line x1="505.3" y1="597.8" x2="505.3" y2="605.9" stroke="#000" stroke-width="1.8"/>
<line x1="590.8" y1="474.5" x2="599.4" y2="474.5" stroke="#000" stroke-width="1.8"/>
<line x1="590.8" y1="597.8" x2="599.4" y2="597.8" stroke="#000" stroke-width="1.8"/>
<g opacity="0.999">
<text transform="matrix(0.7690 0 0 0.6857 201.96 47.60)" x="0" y="0" font-family='"Liberation Sans", sans-serif' font-size="40" fill="#000" stroke="#000" stroke-width="0.619" stroke-linejoin="round" ><tspan >−2</tspan></text>
<text transform="matrix(0.7643 0 0 0.6750 297.47 47.60)" x="0" y="0" font-family='"Liberation Sans", sans-serif' font-size="40" fill="#000" stroke="#000" stroke-width="0.625" stroke-linejoin="round" ><tspan >−1</tspan></text>
<text transform="matrix(0.7000 0 0 0.6893 401.90 47.90)" x="0" y="0" font-family='"Liberation Sans", sans-serif' font-size="40" fill="#000" stroke="#000" stroke-width="0.648" stroke-linejoin="round" ><tspan >0</tspan></text>
<text transform="matrix(0.6529 0 0 0.6679 498.04 47.60)" x="0" y="0" font-family='"Liberation Sans", sans-serif' font-size="40" fill="#000" stroke="#000" stroke-width="0.681" stroke-linejoin="round" ><tspan >1</tspan></text>
<text transform="matrix(0.6722 0 0 0.6821 592.76 47.70)" x="0" y="0" font-family='"Liberation Sans", sans-serif' font-size="40" fill="#000" stroke="#000" stroke-width="0.665" stroke-linejoin="round" ><tspan >2</tspan></text>
<text transform="matrix(0.7211 0 0 0.7071 211.16 633.60)" x="0" y="0" font-family='"Liberation Sans", sans-serif' font-size="40" fill="#000" stroke="#000" stroke-width="0.630" stroke-linejoin="round" ><tspan >0</tspan></text>
<text transform="matrix(0.6667 0 0 0.6786 307.07 633.00)" x="0" y="0" font-family='"Liberation Sans", sans-serif' font-size="40" fill="#000" stroke="#000" stroke-width="0.669" stroke-linejoin="round" ><tspan >2</tspan></text>
<text transform="matrix(0.6950 0 0 0.6714 402.20 633.00)" x="0" y="0" font-family='"Liberation Sans", sans-serif' font-size="40" fill="#000" stroke="#000" stroke-width="0.659" stroke-linejoin="round" ><tspan >4</tspan></text>
<text transform="matrix(0.6842 0 0 0.7107 497.43 633.70)" x="0" y="0" font-family='"Liberation Sans", sans-serif' font-size="40" fill="#000" stroke="#000" stroke-width="0.645" stroke-linejoin="round" ><tspan >6</tspan></text>
<text transform="matrix(0.7000 0 0 0.7036 592.60 633.70)" x="0" y="0" font-family='"Liberation Sans", sans-serif' font-size="40" fill="#000" stroke="#000" stroke-width="0.641" stroke-linejoin="round" ><tspan >8</tspan></text>
<text transform="matrix(0.7231 0 0 0.6893 606.95 100.80)" x="0" y="0" font-family='"Liberation Sans", sans-serif' font-size="40" fill="#000" stroke="#000" stroke-width="0.637" stroke-linejoin="round" ><tspan >0.8</tspan></text>
<text transform="matrix(0.7231 0 0 0.6893 606.95 209.10)" x="0" y="0" font-family='"Liberation Sans", sans-serif' font-size="40" fill="#000" stroke="#000" stroke-width="0.637" stroke-linejoin="round" ><tspan >0.4</tspan></text>
<text transform="matrix(0.7231 0 0 0.6893 606.95 317.40)" x="0" y="0" font-family='"Liberation Sans", sans-serif' font-size="40" fill="#000" stroke="#000" stroke-width="0.637" stroke-linejoin="round" ><tspan >0.0</tspan></text>
<text transform="matrix(0.7231 0 0 0.6893 606.95 360.90)" x="0" y="0" font-family='"Liberation Sans", sans-serif' font-size="40" fill="#000" stroke="#000" stroke-width="0.637" stroke-linejoin="round" ><tspan >0.8</tspan></text>
<text transform="matrix(0.7231 0 0 0.6893 606.95 484.20)" x="0" y="0" font-family='"Liberation Sans", sans-serif' font-size="40" fill="#000" stroke="#000" stroke-width="0.637" stroke-linejoin="round" ><tspan >0.4</tspan></text>
<text transform="matrix(0.7231 0 0 0.6893 606.95 607.50)" x="0" y="0" font-family='"Liberation Sans", sans-serif' font-size="40" fill="#000" stroke="#000" stroke-width="0.637" stroke-linejoin="round" ><tspan >0.0</tspan></text>
<text transform="matrix(0.7097 0 0 0.6579 384.41 20.24)" x="0" y="0" font-family='"Liberation Sans", sans-serif' font-size="40" fill="#000" stroke="#000" stroke-width="0.512" stroke-linejoin="round" ><tspan font-style="italic">β</tspan><tspan >Δ</tspan><tspan font-style="italic">μ</tspan></text>
<text transform="matrix(0.6154 0 0 0.7071 380.68 670.50)" x="0" y="0" font-family='"Liberation Sans", sans-serif' font-size="40" fill="#000" stroke="#000" stroke-width="0.529" stroke-linejoin="round" ><tspan font-style="italic">E</tspan></text>
<text transform="matrix(0.6000 0 0 0.5429 403.00 662.90)" x="0" y="0" font-family='"Liberation Sans", sans-serif' font-size="40" fill="#000" stroke="#000" stroke-width="0.210" stroke-linejoin="round" ><tspan >*</tspan></text>
<text transform="matrix(0.5361 0 0 0.4909 397.09 677.20)" x="0" y="0" font-family='"Liberation Sans", sans-serif' font-size="40" fill="#000" stroke="#000" stroke-width="0.234" stroke-linejoin="round" ><tspan >max</tspan></text>
<text transform="matrix(0.6364 0 0 0.6682 12.26 120.60)" x="0" y="0" font-family='"Liberation Sans", sans-serif' font-size="40" fill="#000" stroke="#000" stroke-width="0.460" stroke-linejoin="round" ><tspan font-weight="bold">a</tspan></text>
<text transform="matrix(0.7400 0 0 0.6433 226.18 87.90)" x="0" y="0" font-family='"Liberation Sans", sans-serif' font-size="40" fill="#000" stroke="#000" stroke-width="0.434" stroke-linejoin="round" ><tspan font-weight="bold">b</tspan></text>
<text transform="matrix(0.7053 0 0 0.6636 231.09 374.80)" x="0" y="0" font-family='"Liberation Sans", sans-serif' font-size="40" fill="#000" stroke="#000" stroke-width="0.438" stroke-linejoin="round" ><tspan font-weight="bold">c</tspan></text>
<text transform="matrix(0.4962 0 0 0.5000 233.10 133.60)" x="0" y="0" font-family='"Liberation Sans", sans-serif' font-size="40" fill="#561a80" stroke="#561a80" stroke-width="0.241" stroke-linejoin="round" ><tspan font-style="italic">E</tspan></text>
<text transform="matrix(0.4071 0 0 0.3857 248.69 127.80)" x="0" y="0" font-family='"Liberation Sans", sans-serif' font-size="40" fill="#561a80" stroke="#561a80" stroke-width="0.303" stroke-linejoin="round" ><tspan >*</tspan></text>
<text transform="matrix(0.3542 0 0 0.3682 244.74 137.00)" x="0" y="0" font-family='"Liberation Sans", sans-serif' font-size="40" fill="#561a80" stroke="#561a80" stroke-width="0.332" stroke-linejoin="round" ><tspan >max</tspan></text>
<text transform="matrix(0.5947 0 0 0.4308 272.31 133.22)" x="0" y="0" font-family='"Liberation Sans", sans-serif' font-size="40" fill="#561a80" stroke="#561a80" stroke-width="0.234" stroke-linejoin="round" ><tspan >=</tspan></text>
<text transform="matrix(0.5789 0 0 0.5000 286.44 133.60)" x="0" y="0" font-family='"Liberation Sans", sans-serif' font-size="40" fill="#561a80" stroke="#561a80" stroke-width="0.222" stroke-linejoin="round" ><tspan >8</tspan></text>
<text transform="matrix(0.5526 0 0 0.5321 249.99 214.70)" x="0" y="0" font-family='"Liberation Sans", sans-serif' font-size="40" fill="#c0279a" stroke="#c0279a" stroke-width="0.221" stroke-linejoin="round" ><tspan >6</tspan></text>
<text transform="matrix(0.5650 0 0 0.5071 326.24 275.10)" x="0" y="0" font-family='"Liberation Sans", sans-serif' font-size="40" fill="#f7a2c2" stroke="#f7a2c2" stroke-width="0.224" stroke-linejoin="round" ><tspan >4</tspan></text>
<text transform="matrix(0.5316 0 0 0.5321 537.34 276.10)" x="0" y="0" font-family='"Liberation Sans", sans-serif' font-size="40" fill="#fbadb2" stroke="#fbadb2" stroke-width="0.226" stroke-linejoin="round" ><tspan >0</tspan></text>
<text transform="matrix(0.5723 0 0 0.5214 258.86 401.00)" x="0" y="0" font-family='"Liberation Sans", sans-serif' font-size="40" fill="#63c397" stroke="#63c397" stroke-width="0.219" stroke-linejoin="round" ><tspan >-0.1</tspan></text>
<text transform="matrix(0.5923 0 0 0.5357 400.12 409.90)" x="0" y="0" font-family='"Liberation Sans", sans-serif' font-size="40" fill="#2c8ac4" stroke="#2c8ac4" stroke-width="0.213" stroke-linejoin="round" ><tspan >-0.6</tspan></text>
<text transform="matrix(0.5754 0 0 0.5107 446.65 454.10)" x="0" y="0" font-family='"Liberation Sans", sans-serif' font-size="40" fill="#1a6db0" stroke="#1a6db0" stroke-width="0.221" stroke-linejoin="round" ><tspan >-1.1</tspan></text>
<text transform="matrix(0.5779 0 0 0.4868 492.98 559.81)" x="0" y="0" font-family='"Liberation Sans", sans-serif' font-size="40" fill="#1b4f92" stroke="#1b4f92" stroke-width="0.225" stroke-linejoin="round" ><tspan font-style="italic">β</tspan><tspan >Δ</tspan><tspan font-style="italic">μ</tspan><tspan >=-1.6</tspan></text>
<text transform="matrix(0.6167 0 0 0.5368 45.97 54.31)" x="0" y="0" font-family='"Liberation Sans", sans-serif' font-size="40" fill="#c8409f" stroke="#c8409f" stroke-width="0.208" stroke-linejoin="round" ><tspan >control by </tspan><tspan font-style="italic">μ</tspan></text>
<text transform="matrix(0.6085 0 0 0.5633 55.58 85.60)" x="0" y="0" font-family='"Liberation Sans", sans-serif' font-size="40" fill="#c8409f" stroke="#c8409f" stroke-width="0.205" stroke-linejoin="round" ><tspan >at fixed </tspan><tspan font-style="italic">E</tspan></text>
<text transform="matrix(0.5387 0 0 0.4967 78.56 200.50)" x="0" y="0" font-family='"Liberation Sans", sans-serif' font-size="40" fill="#c8409f" stroke="#c8409f" stroke-width="0.232" stroke-linejoin="round" ><tspan >field </tspan><tspan font-style="italic">E</tspan></text>
<text transform="matrix(0.5573 0 0 0.4658 74.23 482.97)" x="0" y="0" font-family='"Liberation Sans", sans-serif' font-size="40" fill="#2f74b5" stroke="#2f74b5" stroke-width="0.235" stroke-linejoin="round" ><tspan >reservoir </tspan><tspan font-style="italic">μ</tspan></text>
<text transform="matrix(0.6062 0 0 0.5342 48.59 569.83)" x="0" y="0" font-family='"Liberation Sans", sans-serif' font-size="40" fill="#3a7fbf" stroke="#3a7fbf" stroke-width="0.210" stroke-linejoin="round" ><tspan >control by </tspan><tspan font-style="italic">E</tspan></text>
<text transform="matrix(0.6283 0 0 0.5289 61.74 600.37)" x="0" y="0" font-family='"Liberation Sans", sans-serif' font-size="40" fill="#3a7fbf" stroke="#3a7fbf" stroke-width="0.207" stroke-linejoin="round" ><tspan >at fixed </tspan><tspan font-style="italic">μ</tspan></text>
<g transform="translate(664.2 204.30) rotate(-90)"><text transform="matrix(0.6957 0 0 0.6767 0.70 14.89)" font-family='"Liberation Sans", sans-serif' font-size="40" font-style="italic" fill="#000" stroke="#000" stroke-width="0.583">ρ</text></g>
<g transform="translate(654.8 183.00) rotate(-90)"><text transform="matrix(0.5857 0 0 0.6714 -0.59 18.80)" font-family='"Liberation Sans", sans-serif' font-size="40" fill="#000" stroke="#000" stroke-width="0.477">*</text></g>
<line x1="659.8" y1="187.80" x2="659.8" y2="204.90" stroke="#000" stroke-width="1.6"/>
<g transform="translate(664.2 496.60) rotate(-90)"><text transform="matrix(0.6957 0 0 0.6767 0.70 14.89)" font-family='"Liberation Sans", sans-serif' font-size="40" font-style="italic" fill="#000" stroke="#000" stroke-width="0.583">ρ</text></g>
<g transform="translate(654.8 475.30) rotate(-90)"><text transform="matrix(0.5857 0 0 0.6714 -0.59 18.80)" font-family='"Liberation Sans", sans-serif' font-size="40" fill="#000" stroke="#000" stroke-width="0.477">*</text></g>
<line x1="659.8" y1="480.10" x2="659.8" y2="497.20" stroke="#000" stroke-width="1.6"/>
</g>
</svg></body></html>
